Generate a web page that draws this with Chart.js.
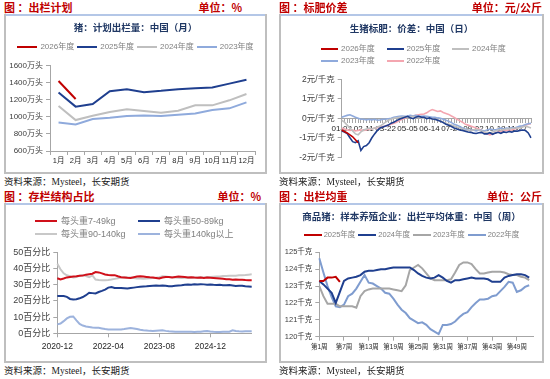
<!DOCTYPE html>
<html><head><meta charset="utf-8">
<script src="https://cdn.jsdelivr.net/npm/chart.js@4/dist/chart.umd.min.js"></script>
<style>
body{margin:0;width:550px;height:379px;background:#fff;position:relative;overflow:hidden;font-family:"Liberation Sans","Noto Sans CJK SC",sans-serif;}
.a{position:absolute}
.hdr{font-family:"Noto Sans CJK SC";font-weight:bold;font-size:11px;color:#c00000;line-height:14px;white-space:nowrap}
.rule{height:2px;background:#b4c7e7}
.box{border-left:2px solid #bfbfbf;border-right:2px solid #bfbfbf;border-bottom:2px solid #bfbfbf;box-sizing:border-box}
.src{font-family:"Liberation Serif","Noto Sans CJK SC";font-size:9.5px;color:#222;line-height:12px;white-space:nowrap}
.ttl{font-family:"Noto Sans CJK SC";font-weight:bold;font-size:9.5px;color:#203864;text-align:center;line-height:12px;white-space:nowrap}
.lg{display:flex;color:#808080;white-space:nowrap;line-height:12px}
.lgi{display:flex;align-items:center}
.lgl{display:inline-block}
canvas{position:absolute}
</style></head>
<body>
<!-- panel 1 -->
<div class="a hdr" style="left:4px;top:0">图 ：出栏计划</div>
<div class="a hdr" style="right:308px;top:0">单位：%</div>
<div class="a rule" style="left:4px;top:14px;width:263px"></div>
<div class="a box" style="left:4px;top:14px;width:263px;height:160px"></div>
<canvas id="c1" width="259" height="156" style="left:6px;top:16px"></canvas>
<div class="a ttl" style="left:6px;top:21px;width:259px">猪：计划出栏量：中国（月）</div>
<div class="a lg" id="lg1" style="left:6px;top:41px;width:259px;justify-content:center;gap:3px;font-size:8px"></div>
<div class="a src" style="left:4px;top:176px">资料来源：Mysteel，长安期货</div>
<!-- panel 2 -->
<div class="a hdr" style="left:279px;top:0">图 ：标肥价差</div>
<div class="a hdr" style="right:8px;top:0">单位：元/公斤</div>
<div class="a rule" style="left:279px;top:14px;width:265px"></div>
<div class="a box" style="left:279px;top:14px;width:265px;height:160px"></div>
<canvas id="c2" width="261" height="156" style="left:281px;top:16px"></canvas>
<div class="a ttl" style="left:281px;top:22px;width:261px">生猪标肥：价差：中国（日）</div>
<div class="a lg" id="lg2" style="left:321px;top:43px;display:grid;grid-template-columns:repeat(3,65.5px);grid-auto-rows:12px;font-size:8px"></div>
<div class="a src" style="left:279px;top:176px">资料来源：Mysteel，长安期货</div>
<!-- panel 3 -->
<div class="a hdr" style="left:4px;top:189px">图 ：存栏结构占比</div>
<div class="a hdr" style="right:289px;top:189px">单位：%</div>
<div class="a rule" style="left:4px;top:203px;width:263px"></div>
<div class="a box" style="left:4px;top:203px;width:263px;height:160px"></div>
<canvas id="c3" width="259" height="156" style="left:6px;top:205px"></canvas>
<div class="a lg" id="lg3" style="left:35px;top:214.5px;display:grid;grid-template-columns:repeat(2,103px);grid-auto-rows:13px;font-size:9px;line-height:13px"></div>
<div class="a src" style="left:4px;top:365px">资料来源：Mysteel，长安期货</div>
<!-- panel 4 -->
<div class="a hdr" style="left:279px;top:189px">图 ：出栏均重</div>
<div class="a hdr" style="right:8px;top:189px">单位：公斤</div>
<div class="a rule" style="left:279px;top:203px;width:265px"></div>
<div class="a box" style="left:279px;top:203px;width:265px;height:160px"></div>
<canvas id="c4" width="261" height="156" style="left:281px;top:205px"></canvas>
<div class="a ttl" style="left:281px;top:209.7px;width:261px">商品猪：样本养殖企业：出栏平均体重：中国（周）</div>
<div class="a lg" id="lg4" style="left:281px;top:229px;width:261px;justify-content:center;gap:3px;font-size:7.5px"></div>
<div class="a src" style="left:279px;top:365px">资料来源：Mysteel，长安期货</div>

<script>
// ---------- Panel 1: 出栏计划 (万头) ----------
const months = ['1月','2月','3月','4月','5月','6月','7月','8月','9月','10月','11月','12月'];
const plan2026 = [1420, 1210];
const plan2025 = [1285,1120,1150,1300,1325,1290,1305,1325,1335,1345,1390,1435];
const plan2024 = [1127,963,1014,1057,1088,1069,1049,1073,1135,1135,1194,1268];
const plan2023 = [935,912,975,990,1010,1015,1010,1025,1040,1080,1100,1170];

// ---------- Panel 2: 标肥价差 (元/千克) ----------
const spreadTickLabels = ['01-02','02-11','03-22','05-05','06-14','07-24','09-02','10-18','11-27'];
const spread2026 = [-0.6,-0.68,-0.75,-0.85,-0.95,-1.1,-1.25];
const spread2025 = [-0.65,-0.7,-0.78,-1.0,-1.2,-1.25,-1.15,-1.65,-1.45,-1.4,
  -1.25,-1.0,-0.8,-0.62,-0.5,-0.45,-0.4,-0.35,-0.25,-0.2,
  -0.12,-0.05,0.0,0.05,0.1,0.03,-0.02,0.06,0.1,0.06,
  0.05,-0.02,0.02,-0.04,-0.05,-0.1,-0.15,-0.22,-0.3,-0.35,
  -0.42,-0.5,-0.55,-0.6,-0.62,-0.66,-0.7,-0.72,-0.76,-0.78,
  -0.74,-0.72,-0.8,-0.8,-0.74,-0.82,-0.76,-0.72,-0.77,-0.7,
  -0.73,-0.68,-0.71,-0.65,-0.66,-0.62,-0.6,-0.63,-0.75,-1.0];
const spread2024 = [-0.1,-0.2,-0.35,-0.5,-0.65,-0.8,-0.85,-0.7,-0.6,-0.55,
  -0.5,-0.55,-0.5,-0.45,-0.4,-0.3,-0.2,-0.1,-0.05,0.0,
  0.02,0.05,0.05,0.08,0.05,0.08,0.1,0.05,0.05,0.02,
  0.0,0.02,0.0,-0.02,-0.05,-0.08,-0.12,-0.2,-0.25,-0.3,
  -0.35,-0.4,-0.45,-0.5,-0.55,-0.6,-0.62,-0.65,-0.6,-0.55,
  -0.6,-0.65,-0.7,-0.72,-0.75,-0.7,-0.65,-0.6,-0.6,-0.58,
  -0.55,-0.55,-0.52,-0.5,-0.5,-0.48,-0.45,-0.4,-0.45,-0.5];
const spread2023 = [0.05,0.1,0.15,0.18,0.12,0.05,0.0,-0.05,-0.05,-0.08,
  -0.05,-0.08,-0.05,-0.1,-0.08,-0.05,-0.05,-0.02,0.0,0.05,
  0.08,0.1,0.12,0.1,0.12,0.15,0.12,0.15,0.12,0.1,
  0.12,0.1,0.08,0.05,0.05,0.02,0.0,-0.05,-0.1,-0.15,
  -0.22,-0.3,-0.35,-0.42,-0.5,-0.55,-0.6,-0.62,-0.6,-0.65,
  -0.6,-0.62,-0.65,-0.6,-0.55,-0.58,-0.6,-0.55,-0.5,-0.55,
  -0.5,-0.52,-0.48,-0.5,-0.45,-0.4,-0.38,-0.32,-0.28,-0.25];
const spread2022 = [-0.5,-0.55,-0.6,-0.62,-0.6,-0.65,-0.62,-0.6,-0.62,-0.6,
  -0.55,-0.55,-0.5,-0.48,-0.45,-0.42,-0.4,-0.35,-0.3,-0.25,
  -0.2,-0.12,-0.05,0.0,0.05,0.1,0.12,0.15,0.18,0.2,
  0.22,0.28,0.38,0.45,0.4,0.35,0.38,0.3,0.25,0.2,
  0.12,0.05,-0.05,-0.12,-0.2,-0.3,-0.35,-0.4,-0.45,-0.5,
  -0.55,-0.62,-0.7,-0.8,-0.85,-0.8,-0.75,-0.7,-0.68,-0.65,
  -0.62,-0.6,-0.6,-0.55,-0.5,-0.45,-0.4,-0.35,-0.3,-0.28];

// ---------- Panel 3: 存栏结构占比 (%) ----------
const stockStart = [2020, 12];
const stockTickLabels = ['2020-12','2022-04','2023-08','2024-12'];
const w7to49 = [34.0,33.2,33.8,34.5,34.8,35.0,35.2,35.5,35.6,36.2,36.5,36.8,37.8,37.6,37.0,36.3,36.0,35.8,35.9,35.2,
  34.6,34.5,34.3,34.2,34.6,35.0,35.2,35.0,34.8,34.6,34.5,34.2,33.8,34.4,34.8,34.7,34.5,34.8,35.0,34.9,
  34.7,34.5,34.6,34.4,34.3,34.4,34.2,34.4,34.3,34.2,34.0,33.8,33.6,33.4,33.3,33.0,33.2,33.0,33.1,32.9,32.8,32.8];
const w50to89 = [23.0,23.1,23.0,22.5,21.2,20.8,21.0,21.6,22.4,23.5,25.0,24.8,24.6,25.5,26.2,27.0,28.2,28.6,28.0,27.9,
  28.0,27.8,27.6,27.9,28.2,28.5,28.7,28.9,29.0,29.2,29.4,29.5,29.4,29.5,29.3,29.0,29.1,29.3,29.5,29.6,
  30.0,30.1,30.0,30.2,30.1,30.3,30.2,30.0,30.1,29.9,29.8,29.9,29.7,29.6,29.8,29.5,29.2,29.4,29.3,29.0,28.9,28.8];
const w90to140 = [43.0,39.5,37.0,35.8,35.2,34.4,34.8,35.6,36.0,35.4,34.6,35.8,33.2,32.9,32.8,32.8,32.9,33.2,33.6,34.0,
  34.4,34.6,34.5,34.4,34.2,33.9,33.8,33.7,33.9,34.0,34.1,34.3,34.6,35.2,35.0,34.8,34.6,34.5,34.3,34.2,
  34.3,34.4,34.3,34.5,34.4,34.6,34.5,34.7,34.8,34.9,35.0,35.1,35.3,35.4,35.5,35.6,35.6,35.8,35.9,36.0,36.2,36.4];
const w140plus = [5.5,6.0,7.5,9.2,10.2,10.4,8.0,5.8,4.8,4.2,3.9,3.6,3.5,3.4,3.0,2.6,2.4,2.3,2.4,2.3,
  2.4,2.6,2.9,3.2,3.0,2.6,2.2,1.9,1.7,1.5,1.4,1.6,1.8,1.9,1.5,1.2,1.1,1.0,1.0,0.9,
  0.9,1.0,0.9,0.8,0.9,1.0,1.3,1.4,1.1,0.9,0.8,0.8,0.9,1.0,1.0,1.9,1.4,1.2,1.1,1.2,1.3,1.3];

// ---------- Panel 4: 出栏均重 (千克) ----------
const weekCount = 53;
const weight2025 = [123.3,123.3,123.5,123.5,123.55,123.25];
const weight2024 = [123.3,123.1,122.85,122.6,122.0,122.65,123.3,123.45,123.5,123.55,
  123.65,123.85,123.9,123.9,123.95,124.0,124.0,124.05,124.1,124.1,
  124.1,124.1,124.1,123.95,123.75,123.6,123.5,123.45,123.5,123.65,
  123.5,123.3,123.2,123.35,123.35,123.4,123.45,123.5,123.45,123.45,
  123.45,123.4,123.25,123.25,123.25,123.5,123.6,123.65,123.7,123.7,123.65,123.5];
const weight2023 = [123.0,122.4,121.95,121.95,121.95,121.8,121.8,121.8,121.8,121.72,
  122.4,122.7,122.8,122.85,122.85,122.85,122.85,122.85,122.8,122.75,
  122.7,123.05,123.95,124.1,124.25,124.05,123.75,123.45,123.35,123.35,
  123.35,123.35,123.4,123.8,124.25,124.4,124.4,124.3,124.0,123.75,
  123.75,123.8,123.85,123.85,123.85,123.8,123.7,123.65,123.65,123.55,123.5,123.35];
const weight2022 = [124.65,123.8,123.0,122.35,121.8,121.75,121.9,122.4,122.55,122.85,
  123.25,123.65,123.2,123.15,123.0,122.85,122.6,122.55,122.25,121.9,
  121.6,121.4,121.1,120.95,120.8,120.85,120.7,120.45,120.3,120.15,
  120.7,120.7,120.75,120.9,121.15,121.35,121.45,121.75,122.0,122.2,
  122.2,122.25,122.4,122.45,122.7,122.95,123.25,123.2,122.65,122.75,122.95,123.05];

// ---------- colours ----------
const RED='#c00000', NAVY='#1f3f8f', GREY='#bfbfbf', LBLUE='#8faadc', PINK='#f4a6b0';

Chart.defaults.font.family = '"Liberation Sans","Noto Sans CJK SC",sans-serif';
Chart.defaults.animation = false;
Chart.defaults.responsive = false;
Chart.defaults.plugins.legend.display = false;
Chart.defaults.plugins.tooltip.enabled = false;
Chart.defaults.elements.point.radius = 0;
Chart.defaults.elements.line.tension = 0;

const htmlLegend = {
  id: 'htmlLegend',
  afterUpdate(chart, args, o) {
    const box = document.getElementById(o.id);
    box.innerHTML = '';
    chart.data.datasets.forEach(ds => {
      const it = document.createElement('div'); it.className = 'lgi';
      const ln = document.createElement('span'); ln.className = 'lgl';
      ln.style.background = ds.borderColor; ln.style.width = o.lineW + 'px';
      ln.style.height = o.lineH + 'px'; ln.style.marginRight = o.gap + 'px';
      const tx = document.createElement('span'); tx.textContent = ds.label;
      it.append(ln, tx); box.append(it);
    });
  }
};

const AX = '#a6a6a6';
function yAxis(min, max, step, size, width, unit) {
  return {min, max,
    ticks: {stepSize: step, font: {size}, color: '#404040', padding: 3, callback: v => v + unit},
    grid: {drawOnChartArea: false, tickLength: 4, color: AX},
    border: {color: AX},
    afterFit(s) { s.width = width; }};
}
function line(label, data, color, w) {
  return {label, data, borderColor: color, backgroundColor: color, borderWidth: w || 2, fill: false};
}

// Chart 1
new Chart(document.getElementById('c1'), {
  type: 'line',
  data: {labels: months, datasets: [
    line('2026年度', plan2026, RED), line('2025年度', plan2025, NAVY),
    line('2024年度', plan2024, GREY), line('2023年度', plan2023, LBLUE)]},
  options: {
    layout: {padding: {left: 0, right: 10, top: 49.7, bottom: 0}},
    scales: {
      x: {offset: true, grid: {offset: true, drawOnChartArea: false, tickLength: 4, color: AX}, border: {color: AX},
          ticks: {font: {size: 7.5}, color: '#262626', padding: 1, maxRotation: 0, autoSkip: false},
          afterFit(s) { s.height = 21; }},
      y: yAxis(600, 1600, 200, 8, 44, '万头')
    },
    plugins: {htmlLegend: {id: 'lg1', lineW: 20, lineH: 2, gap: 3}}
  },
  plugins: [htmlLegend]
});

// Chart 2
const spreadCats = Array.from({length: spread2025.length}, (_, i) => i % 8 === 0 ? (spreadTickLabels[i / 8] || '') : '');
new Chart(document.getElementById('c2'), {
  type: 'line',
  data: {labels: spreadCats, datasets: [
    line('2026年度', spread2026, RED, 1.6), line('2025年度', spread2025, NAVY, 1.6),
    line('2024年度', spread2024, GREY, 1.6), line('2023年度', spread2023, LBLUE, 1.6),
    line('2022年度', spread2022, PINK, 1.6)]},
  options: {
    layout: {padding: {left: 0, right: 11, top: 63.3, bottom: 14.7}},
    scales: {
      x: {position: {y: 0}, grid: {drawOnChartArea: false, tickLength: 4, color: AX}, border: {color: AX},
          ticks: {font: {size: 8}, color: '#262626', padding: 2, maxRotation: 0, autoSkip: false}},
      y: yAxis(-2, 2, 1, 8.5, 60.7, '元/千克')
    },
    plugins: {htmlLegend: {id: 'lg2', lineW: 17, lineH: 2, gap: 3}}
  },
  plugins: [htmlLegend]
});

// Chart 3
const stockCats = Array.from({length: w7to49.length}, (_, i) => {
  const m = stockStart[1] - 1 + i, y = stockStart[0] + Math.floor(m / 12);
  return y + '-' + String(m % 12 + 1).padStart(2, '0');
});
new Chart(document.getElementById('c3'), {
  type: 'line',
  data: {labels: stockCats, datasets: [
    line('每头重7-49kg', w7to49, '#d0101a'), line('每头重50-89kg', w50to89, NAVY),
    line('每头重90-140kg', w90to140, '#c8c8c8'), line('每头重140kg以上', w140plus, '#9db3dd')]},
  options: {
    layout: {padding: {left: 0, right: 13.3, top: 47.3, bottom: 0}},
    scales: {
      x: {grid: {drawOnChartArea: false, tickLength: 4, color: AX}, border: {color: AX},
          ticks: {font: {size: 8.5}, color: '#262626', padding: 4, maxRotation: 0, autoSkip: false,
                  callback(v, i) { const l = this.getLabelForValue(v); return stockTickLabels.includes(l) ? l : null; }},
          afterFit(s) { s.height = 27.7; }},
      y: yAxis(0, 50, 10, 9, 51.3, '百分比')
    },
    plugins: {htmlLegend: {id: 'lg3', lineW: 22, lineH: 2.5, gap: 4}}
  },
  plugins: [htmlLegend]
});

// Chart 4
const weekCats = Array.from({length: weekCount}, (_, i) => '第' + (i + 1) + '周');
new Chart(document.getElementById('c4'), {
  type: 'line',
  data: {labels: weekCats, datasets: [
    line('2025年度', weight2025, RED), line('2024年度', weight2024, NAVY),
    line('2023年度', weight2023, '#a6a6a6'), line('2022年度', weight2022, '#7f9ccf')]},
  options: {
    layout: {padding: {left: 0, right: 8.7, top: 47.3, bottom: 0}},
    scales: {
      x: {grid: {drawOnChartArea: false, tickLength: 4, color: AX}, border: {color: AX},
          ticks: {font: {size: 6.5}, color: '#262626', padding: 3, maxRotation: 0, autoSkip: false,
                  callback(v, i) { return i % 6 === 0 ? this.getLabelForValue(v) : null; }},
          afterFit(s) { s.height = 24.3; }},
      y: yAxis(120, 125, 1, 7.5, 38.3, '千克')
    },
    plugins: {htmlLegend: {id: 'lg4', lineW: 18, lineH: 2, gap: 2}}
  },
  plugins: [htmlLegend]
});
</script>
</body></html>
